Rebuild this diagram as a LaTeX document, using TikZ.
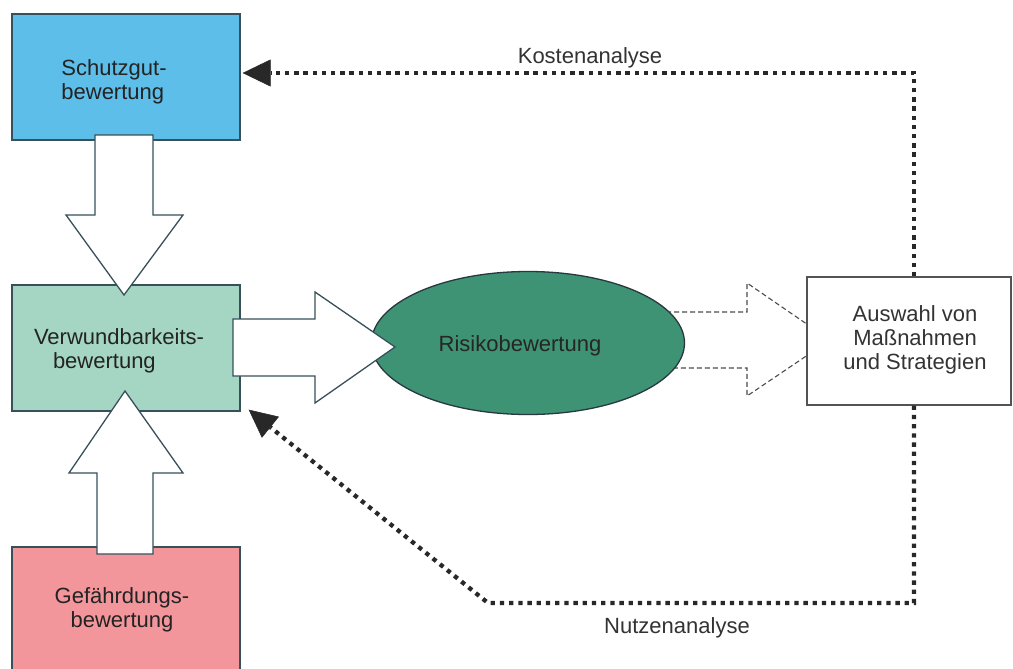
\documentclass[tikz,border=0pt]{standalone}
\usepackage{fontspec}
\setmainfont{Liberation Sans}
\usetikzlibrary{shapes.geometric,arrows.meta}
\definecolor{cblue}{RGB}{93,190,234}
\definecolor{cteal}{RGB}{165,214,196}
\definecolor{cpink}{RGB}{242,150,156}
\definecolor{cgreen}{RGB}{62,147,116}
\definecolor{edgec}{RGB}{55,80,90}
\definecolor{txtc}{RGB}{35,35,35}
\definecolor{dotc}{RGB}{40,40,40}
\begin{document}
\begin{tikzpicture}[x=1pt,y=-1pt,
  box/.style={draw=edgec, line width=1.3pt, minimum width=228pt, inner sep=0pt},
  lbl/.style={font=\fontsize{22}{24}\selectfont, text=txtc, inner sep=0pt},
  blockarrow/.style={draw=edgec, fill=white, line width=1.3pt, line join=miter},
  dotline/.style={draw=dotc, line width=4.3pt, dash pattern=on 4.3pt off 4.9pt},
  dashline/.style={draw=gray!60!black, line width=1.1pt, dash pattern=on 5pt off 3pt},
  bigtip/.style={-{Triangle[length=28pt,width=27pt,line width=0.5pt]}}]
\clip (0,0) rectangle (1013,669);
\fill[white] (0,0) rectangle (1013,669);
% boxes
\node[box, fill=cblue, minimum height=126pt] (schutz) at (126,77) {};
\node[box, fill=cteal, minimum height=126pt] (verw) at (126,348) {};
\node[box, fill=cpink, minimum height=130pt] (gef) at (126,612) {};
% dashed block arrow (behind ellipse)
\draw[dashline] (650,312) -- (747,312) -- (747,283) -- (830,340) -- (747,396) -- (747,368) -- (650,368);
\node[ellipse, draw=edgec!70!black, fill=cgreen, line width=1.3pt, minimum width=313pt, minimum height=143pt, inner sep=0pt] (risk) at (528,343) {};
\node[box, draw=gray!65!black, fill=white, minimum width=204pt, minimum height=128pt] (ausw) at (909,341) {};
% block arrows
\draw[blockarrow] (95,135) -- (153,135) -- (153,215) -- (183,215) -- (124,295) -- (66,215) -- (95,215) -- cycle;
\draw[blockarrow] (125,391) -- (183,473) -- (153,473) -- (153,554) -- (97,554) -- (97,473) -- (69,473) -- cycle;
\draw[blockarrow] (233,319) -- (315,319) -- (315,292) -- (395,347) -- (315,403) -- (315,376) -- (233,376) -- cycle;
% labels
\node[lbl, align=left] at (114,81.5) {Schutzgut-\\bewertung};
\node[lbl, align=left] at (119,350.5) {Verwundbarkeits-\\\hspace*{19pt}bewertung};
\node[lbl, align=center] at (122,610) {Gef\"ahrdungs-\\bewertung};
\node[lbl, anchor=base, text=black!85] at (520,351) {Risikobewertung};
\node[lbl, align=center, text=black!80] at (915,340) {Auswahl von\\Ma\ss{}nahmen\\und Strategien};
% dotted feedback connectors
\coordinate (kt) at ([xshift=2pt]schutz.east |- 0,73);
\coordinate (nt) at ([xshift=8pt,yshift=2pt]verw.south east);
\draw[dotline, bigtip] ([xshift=5pt]ausw.north) -- ([xshift=5pt]ausw.north |- 0,73) -- (kt);
\draw[dotline, bigtip] ([xshift=5pt]ausw.south) -- ([xshift=5pt]ausw.south |- 0,603) -- (488,603) -- (nt);
\node[lbl, anchor=base, text=black!80] at (590,64) {Kostenanalyse};
\node[lbl, anchor=base, text=black!80] at (677,633) {Nutzenanalyse};
\end{tikzpicture}
\end{document}
